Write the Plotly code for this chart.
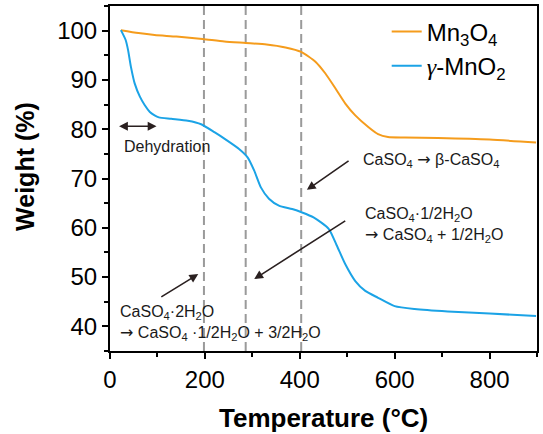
import plotly.graph_objects as go

# ---- data ----
mn3o4_T = [23, 60, 94, 140, 195, 241, 286, 330, 370, 403, 433, 454, 475, 496, 517, 545, 565, 586, 621, 691, 800, 898]
mn3o4_W = [100.1, 99.5, 99.1, 98.8, 98.3, 97.8, 97.5, 97.2, 96.6, 95.7, 93.7, 91.3, 88.3, 85.2, 82.8, 80.4, 79.0, 78.4, 78.3, 78.2, 77.9, 77.3]

mno2_T = [23, 33, 38, 44, 52, 63, 73, 84, 94, 103, 129, 164, 192, 220, 241, 272, 290, 304, 318, 335, 356, 384, 405,
          429, 461, 478, 496, 517, 538, 565, 600, 642, 712, 800, 898]
mno2_W = [100.1, 98.1, 96.1, 92.7, 89.3, 86.6, 84.9, 83.5, 82.8, 82.4, 82.1, 81.7, 81.0, 79.4, 78.1, 76.0, 74.3, 71.6,
          68.2, 65.9, 64.5, 63.8, 63.1, 62.1, 59.8, 56.4, 52.6, 49.2, 47.2, 45.8, 44.1, 43.5, 43.0, 42.6, 42.1]

vlines_T = [198, 286, 403]

x_ticks = [0, 200, 400, 600, 800]
y_ticks = [40, 50, 60, 70, 80, 90, 100]

ORANGE = "#F59C1C"
BLUE = "#1BA3E6"
ARROW = "#2a2020"
FONT = "Arial, 'Liberation Sans', sans-serif"
ARR = "<span style=\"font-family:'DejaVu Sans'\">→</span>"

fig = go.Figure()
fig.add_trace(go.Scatter(x=mn3o4_T, y=mn3o4_W, mode="lines", line=dict(color=ORANGE, width=2, shape="spline", smoothing=0.6),
                         name="Mn<sub>3</sub>O<sub>4</sub>"))
fig.add_trace(go.Scatter(x=mno2_T, y=mno2_W, mode="lines", line=dict(color=BLUE, width=2, shape="spline", smoothing=0.6),
                         name="<span style=\"font-family:'Liberation Serif';font-style:italic\">γ</span>-MnO<sub>2</sub>"))

for xv in vlines_T:
    fig.add_shape(type="line", x0=xv, x1=xv, y0=0, y1=1, xref="x", yref="paper",
                  line=dict(color="#9a9a9a", width=2, dash="9px,5px"), layer="below")

ann = []
def arrow(x, y, ax, ay, both=False):
    return dict(x=x, y=y, ax=ax, ay=ay, xref="x", yref="y", axref="x", ayref="y", text="",
                showarrow=True, arrowhead=2, arrowsize=1.1, arrowwidth=1.6, arrowcolor=ARROW,
                arrowside="end+start" if both else "end", startarrowhead=2, startarrowsize=1.1)

ann.append(arrow(98, 80.6, 16, 80.6, both=True))
ann.append(arrow(415, 67.7, 506, 73.8))
ann.append(arrow(304, 49.6, 499, 61.6))
ann.append(arrow(186, 50.6, 105, 45.8))

tf = dict(family=FONT, size=16, color="#1a1a1a")
ann.append(dict(x=26, y=76.4, xref="x", yref="y", text="Dehydration", showarrow=False,
                xanchor="left", yanchor="middle", font=tf))
ann.append(dict(x=530, y=73.8, xref="x", yref="y", text="CaSO<sub>4</sub> " + ARR + " β-CaSO<sub>4</sub>", showarrow=False,
                xanchor="left", yanchor="middle", font=tf))
ann.append(dict(x=533, y=60.6, xref="x", yref="y",
                text="CaSO<sub>4</sub>·1/2H<sub>2</sub>O<br>" + ARR + " CaSO<sub>4</sub> + 1/2H<sub>2</sub>O", showarrow=False,
                xanchor="left", yanchor="middle", align="left", font=tf))
ann.append(dict(x=17, y=40.6, xref="x", yref="y",
                text="CaSO<sub>4</sub>·2H<sub>2</sub>O<br>" + ARR + " CaSO<sub>4</sub> ·1/2H<sub>2</sub>O + 3/2H<sub>2</sub>O", showarrow=False,
                xanchor="left", yanchor="middle", align="left", font=tf))

ann.append(dict(x=0.5, y=-0.194, xref="paper", yref="paper", text="<b>Temperature (°C)</b>", showarrow=False,
                xanchor="center", yanchor="middle", font=dict(family=FONT, size=26, color="black")))
ann.append(dict(x=-0.198, y=0.535, xref="paper", yref="paper", text="<b>Weight (%)</b>", showarrow=False,
                textangle=-90, xanchor="center", yanchor="middle", font=dict(family=FONT, size=25, color="black")))

fig.update_layout(
    width=543, height=434,
    margin=dict(l=110, r=4, t=5, b=83),
    paper_bgcolor="white", plot_bgcolor="white",
    font=dict(family=FONT, size=24, color="black"),
    showlegend=True,
    legend=dict(x=0.648, y=0.99, xanchor="left", yanchor="top", bgcolor="rgba(0,0,0,0)",
                font=dict(family=FONT, size=24, color="black"), tracegroupgap=0, itemwidth=30),
    annotations=ann,
)
fig.update_xaxes(range=[0, 900], tickvals=x_ticks, ticktext=[str(v) for v in x_ticks],
                 showline=True, mirror=True, linecolor="black", linewidth=2,
                 ticks="outside", ticklen=6, tickwidth=1.5, tickcolor="black",
                 minor=dict(dtick=100, tick0=0, ticks="outside", ticklen=4, tickwidth=1.5, tickcolor="black"),
                 showgrid=False, zeroline=False, tickfont=dict(size=24))
fig.update_yaxes(range=[35, 105], tickvals=y_ticks, ticktext=[str(v) for v in y_ticks],
                 showline=True, mirror=True, linecolor="black", linewidth=2,
                 ticks="outside", ticklen=6, tickwidth=1.5, tickcolor="black",
                 minor=dict(dtick=5, tick0=0, ticks="outside", ticklen=4, tickwidth=1.5, tickcolor="black"),
                 showgrid=False, zeroline=False, tickfont=dict(size=24))

fig.write_html("out.html", config={"displayModeBar": False},
               post_script="document.body.style.margin='0';document.body.style.overflow='hidden';")
